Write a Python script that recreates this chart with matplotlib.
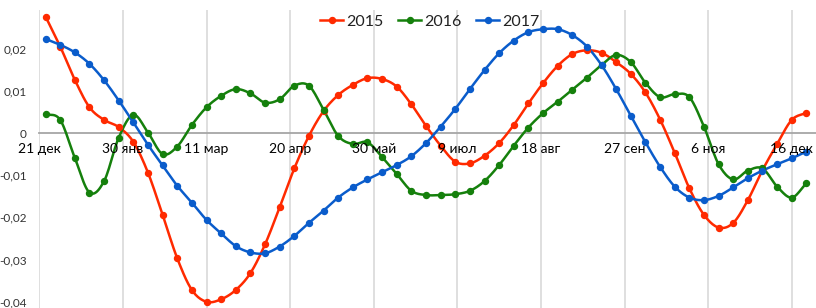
import numpy as np
import matplotlib
matplotlib.use("Agg")
import matplotlib.pyplot as plt
from matplotlib.lines import Line2D

FONT = ['Lato', 'Open Sans', 'DejaVu Sans']
plt.rcParams['font.family'] = FONT

# ---------------- data ----------------
tick_days = [0, 40, 80, 120, 160, 200, 240, 280, 320, 360]
tick_labels = ['21 дек', '30 янв', '11 мар', '20 апр', '30 май',
               '9 июл', '18 авг', '27 сен', '6 ноя', '16 дек']
first_day = 3
step_days = 7

s2015 = [0.0276, 0.0205, 0.0126, 0.0061, 0.0031, 0.0014, -0.0021, -0.0094, -0.0194,
         -0.0297, -0.0372, -0.0400, -0.0394, -0.0372, -0.0332, -0.0264, -0.0176, -0.0084,
         -0.0007, 0.0052, 0.0090, 0.0114, 0.0130, 0.0128, 0.0110, 0.0068, 0.0017, -0.0030,
         -0.0068, -0.0072, -0.0054, -0.0024, 0.0019, 0.0070, 0.0118, 0.0159, 0.0187,
         0.0196, 0.0190, 0.0168, 0.0140, 0.0096, 0.0032, -0.0047, -0.0131, -0.0194,
         -0.0224, -0.0213, -0.0159, -0.0088, -0.0026, 0.0031, 0.0048]
s2016 = [0.0045, 0.0031, -0.0059, -0.0141, -0.0114, -0.0011, 0.0043, 0.0001, -0.0050,
         -0.0032, 0.0019, 0.0061, 0.0088, 0.0104, 0.0094, 0.0072, 0.0080, 0.0112,
         0.0112, 0.0055, -0.0007, -0.0026, -0.0022, -0.0057, -0.0097, -0.0137, -0.0147,
         -0.0147, -0.0145, -0.0137, -0.0114, -0.0076, -0.0030, 0.0013, 0.0047, 0.0074,
         0.0103, 0.0131, 0.0161, 0.0185, 0.0168, 0.0119, 0.0085, 0.0092, 0.0085, 0.0015,
         -0.0074, -0.0110, -0.0089, -0.0084, -0.0127, -0.0153, -0.0119]
s2017 = [0.0223, 0.0209, 0.0191, 0.0164, 0.0125, 0.0077, 0.0025, -0.0028, -0.0077,
         -0.0125, -0.0165, -0.0206, -0.0238, -0.0268, -0.0283, -0.0285, -0.0269, -0.0244,
         -0.0213, -0.0184, -0.0153, -0.0129, -0.0110, -0.0093, -0.0076, -0.0055, -0.0024,
         0.0015, 0.0057, 0.0104, 0.0149, 0.0189, 0.0219, 0.0239, 0.0246, 0.0246, 0.0232,
         0.0205, 0.0161, 0.0104, 0.0041, -0.0022, -0.0080, -0.0127, -0.0153, -0.0159,
         -0.0149, -0.0129, -0.0107, -0.0089, -0.0074, -0.0060, -0.0044]
series_names = ['2015', '2016', '2017']
colors = ['#FF2A00', '#15800C', '#0A5CCB']
y_ticks = [-0.04, -0.03, -0.02, -0.01, 0, 0.01, 0.02]


def smooth(x, y, n=12):
    """Catmull-Rom spline through the data points (Excel-like smoothed line)."""
    x = np.asarray(x, float)
    y = np.asarray(y, float)
    px = np.concatenate([[2 * x[0] - x[1]], x, [2 * x[-1] - x[-2]]])
    py = np.concatenate([[2 * y[0] - y[1]], y, [2 * y[-1] - y[-2]]])
    xs, ys = [], []
    t = np.linspace(0, 1, n, endpoint=False)
    for i in range(1, len(px) - 2):
        for arr, out in ((px, xs), (py, ys)):
            p0, p1, p2, p3 = arr[i - 1], arr[i], arr[i + 1], arr[i + 2]
            out.extend(0.5 * ((2 * p1) + (-p0 + p2) * t +
                              (2 * p0 - 5 * p1 + 4 * p2 - p3) * t ** 2 +
                              (-p0 + 3 * p1 - 3 * p2 + p3) * t ** 3))
    xs.append(x[-1]); ys.append(y[-1])
    return np.array(xs), np.array(ys)


fig = plt.figure(figsize=(8.16, 3.08), dpi=100)
ax = fig.add_axes([39.3 / 816, 0, 1 - 39.3 / 816, 298 / 308])
ax.set_xlim(0, 371.6)
ax.set_ylim(-0.04147, 0.02915)

for d in tick_days:
    ax.axvline(d, color='#D9D9D9', lw=1.2, zorder=0)

for name, vals, c in zip(series_names, [s2015, s2016, s2017], colors):
    days = first_day + step_days * np.arange(len(vals))
    sx, sy = smooth(days, vals)
    ax.plot(sx, sy, color=c, lw=1.8, solid_capstyle='round', zorder=3)
    ax.plot(days, vals, ls='none', marker='o', ms=4.3, color=c, zorder=4)

ax.set_xticks(tick_days)
ax.set_xticklabels(tick_labels, fontsize=13, fontweight='bold', color='black')
ax.set_yticks(y_ticks)
ax.set_yticklabels([('%g' % v).replace('.', ',') for v in y_ticks],
                   fontsize=8.5, color='#333333')
ax.tick_params(axis='both', length=0)
ax.tick_params(axis='x', pad=7)
ax.tick_params(axis='y', pad=9)
ax.xaxis.set_zorder(6)
for s in ['top', 'right', 'left']:
    ax.spines[s].set_visible(False)
ax.spines['bottom'].set_position(('data', 0))
ax.spines['bottom'].set_color('#A6A6A6')
ax.spines['bottom'].set_linewidth(1.3)
ax.spines['bottom'].set_zorder(1)

handles = [Line2D([0], [0], color=c, lw=1.8, marker='o', ms=4.3) for c in colors]
leg = fig.legend(handles, series_names, loc='center', bbox_to_anchor=(430 / 816, 1 - 21.7 / 308),
                 ncol=3, frameon=False, fontsize=11.5, handlelength=1.45,
                 columnspacing=0.9, handletextpad=0.2)
for t in leg.get_texts():
    t.set_color('#222222')

fig.savefig('out.png', dpi=100)
